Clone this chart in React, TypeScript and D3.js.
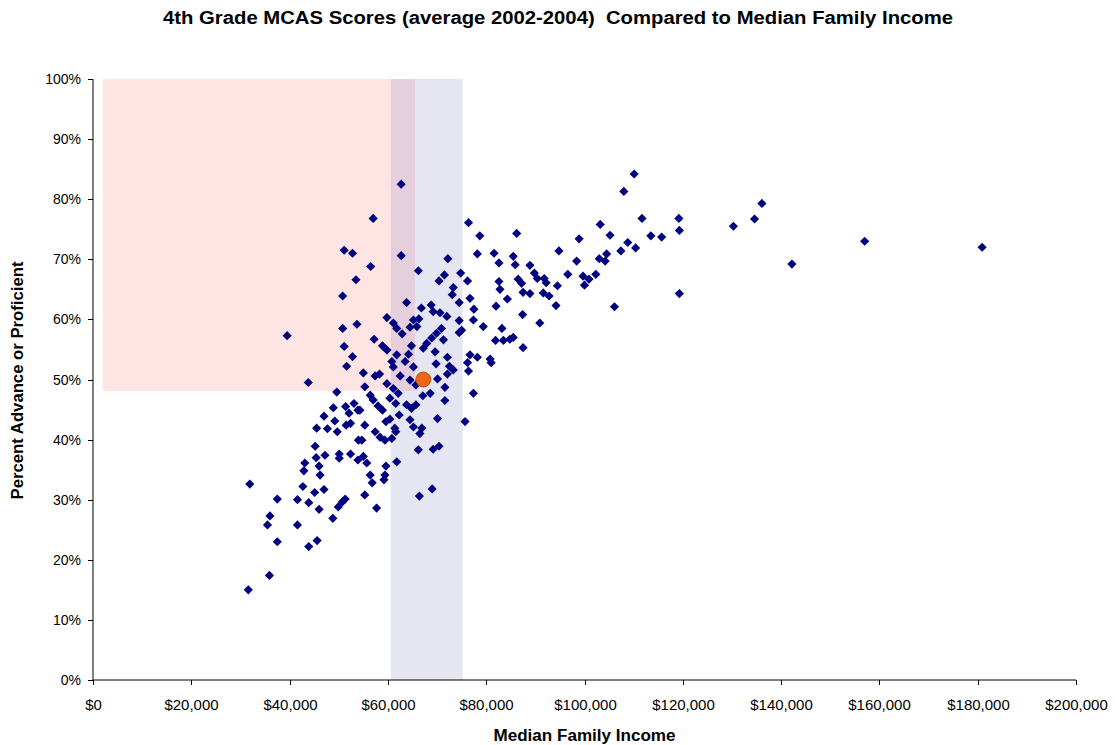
import * as d3 from 'd3';
import React from 'react';

// [median family income ($k), fraction advanced/proficient]
const districts: [number, number][] = [
  [110.1, 84.2], [108.0, 81.3], [136.1, 79.3], [111.7, 76.8], [119.2, 76.8], [119.3, 74.8],
  [134.6, 76.7], [130.3, 75.5], [157.0, 73.0], [180.9, 72.0], [142.2, 69.2], [119.3, 64.3],
  [106.1, 62.1], [103.2, 75.8], [105.2, 74.0], [113.5, 73.9], [115.7, 73.7], [108.8, 72.8],
  [107.4, 71.4], [110.4, 71.9], [104.5, 70.9], [104.2, 69.7],
  [78.7, 73.9], [86.2, 74.3], [98.9, 73.4], [81.6, 71.0], [78.2, 70.9], [82.6, 69.4],
  [85.5, 70.5], [85.9, 69.1], [88.9, 69.0], [94.8, 71.4], [98.4, 69.7], [89.8, 67.7],
  [90.4, 66.8], [91.8, 66.8], [92.2, 66.1], [96.6, 67.5], [99.7, 67.2], [100.9, 66.7],
  [102.3, 67.5], [100.0, 65.7], [94.5, 65.6], [86.5, 66.7], [87.2, 66.0], [82.6, 66.3],
  [82.8, 65.0], [87.5, 64.5], [88.9, 64.3], [91.6, 64.4], [92.8, 63.9], [84.3, 63.4],
  [94.2, 62.3], [82.0, 62.2], [87.4, 60.8], [90.9, 59.4], [79.4, 58.8], [83.2, 58.5],
  [81.9, 56.5], [83.5, 56.5], [84.8, 56.7], [85.5, 57.0], [87.5, 55.3], [80.8, 53.4],
  [103.0, 70.1], [81.0, 52.8],
  [62.7, 82.5], [57.0, 76.8], [76.4, 76.1],
  [62.7, 70.6], [56.5, 68.8], [66.2, 68.1], [72.2, 70.1], [71.5, 67.4], [70.4, 66.4],
  [74.8, 67.7], [76.2, 66.4], [73.3, 65.3], [73.1, 64.1], [76.7, 63.5], [74.5, 62.8],
  [63.8, 62.8], [66.8, 61.9], [68.8, 62.4], [69.2, 61.3], [70.6, 61.1], [72.0, 60.5],
  [77.5, 61.7], [77.4, 59.9], [74.5, 59.8], [66.3, 60.1], [65.9, 58.8], [65.2, 59.9],
  [59.8, 60.3], [61.1, 59.4], [61.8, 58.5], [64.5, 58.7], [62.9, 57.6], [70.9, 58.5],
  [69.9, 57.7], [68.9, 56.9], [67.9, 56.0], [67.2, 55.2], [71.3, 56.6], [74.5, 57.8],
  [75.0, 58.2], [57.2, 56.7], [58.9, 55.6], [59.8, 54.9], [61.8, 54.1], [64.2, 54.2],
  [64.8, 55.6], [69.6, 54.6], [72.1, 53.7], [76.7, 54.1], [78.2, 53.7], [53.5, 66.6],
  [51.1, 71.5], [52.8, 71.0], [50.8, 63.9], [39.5, 57.3], [50.8, 58.5], [53.7, 59.2],
  [51.1, 55.5], [52.8, 53.8],
  [51.6, 52.2], [43.8, 49.5], [49.6, 47.9], [48.9, 45.3], [47.0, 43.9], [51.4, 45.5],
  [53.1, 46.0], [52.1, 44.4], [49.2, 43.1], [45.5, 41.9], [47.7, 41.8], [49.7, 41.3],
  [51.5, 42.4], [52.4, 42.7], [45.2, 38.9], [45.4, 37.0], [47.2, 37.4], [50.1, 37.6],
  [50.1, 36.9], [52.4, 37.6], [43.1, 36.1], [42.9, 34.8], [46.0, 35.6], [46.2, 34.1],
  [54.0, 39.9], [53.9, 36.6], [53.9, 44.9],
  [31.9, 32.6], [37.5, 30.1], [36.0, 27.3], [35.5, 25.8], [37.5, 23.0], [35.9, 17.4],
  [31.6, 15.0], [42.7, 32.2], [45.1, 31.2], [47.0, 31.7], [41.6, 30.0], [43.9, 29.5],
  [46.0, 28.4], [49.9, 28.8], [51.3, 30.1], [50.7, 29.6], [48.8, 26.9], [41.6, 25.8],
  [45.6, 23.2], [43.9, 22.2],
  [56.8, 32.8], [55.3, 30.8], [57.7, 28.6], [66.4, 30.6], [69.0, 31.8], [59.2, 33.3],
  [55.0, 51.1], [57.4, 50.6], [58.3, 50.9], [61.1, 52.1], [60.8, 53.0], [63.5, 53.0],
  [65.2, 52.1], [62.5, 50.6], [64.5, 49.9], [65.7, 49.1], [69.8, 52.6], [72.5, 52.2],
  [73.3, 51.6], [72.1, 50.9], [76.2, 52.8], [76.4, 51.4], [70.1, 50.1], [71.6, 48.7],
  [68.6, 47.7], [67.1, 47.3], [77.4, 47.7], [71.6, 46.5], [55.3, 48.8], [59.8, 49.3],
  [61.1, 48.5], [62.1, 47.7], [56.4, 47.4], [57.0, 46.6], [60.4, 46.9], [61.6, 46.0],
  [58.0, 45.6], [58.9, 44.9], [63.8, 45.8], [64.8, 45.2], [65.7, 45.8], [54.3, 44.9],
  [62.3, 44.1], [60.4, 43.4], [59.6, 43.0], [64.5, 43.3], [70.1, 43.5], [75.7, 43.0],
  [55.3, 42.4], [57.4, 41.3], [58.4, 40.4], [59.4, 39.9], [60.8, 40.2], [61.4, 41.9],
  [61.6, 41.3], [65.2, 42.1], [66.9, 41.9], [66.5, 41.0], [54.7, 39.9], [66.2, 38.3],
  [69.2, 38.4], [70.4, 38.9], [55.0, 37.2], [55.7, 36.1], [61.8, 36.3], [59.6, 35.6],
  [56.4, 34.1], [59.4, 34.1],
];

// state average marker
const stateAverage: [number, number] = [67.2, 50.0];

// shaded bands: [x0 $k, x1 $k, y0 %, y1 %]
const lowIncomeHighScore = [2.0, 65.5, 48.1, 100];
const incomeBand = [60.6, 75.2, 0, 100];

const xTicks = [0, 20000, 40000, 60000, 80000, 100000, 120000, 140000, 160000, 180000, 200000];
const yTicks = [0, 0.1, 0.2, 0.3, 0.4, 0.5, 0.6, 0.7, 0.8, 0.9, 1.0];

const params = {
  width: 1115,
  height: 745,
  left: 93,
  right: 1076,
  top: 79,
  bottom: 680,
};

const font = '"Liberation Sans", Arial, sans-serif';

export default function App() {
  const x = d3.scaleLinear().domain([0, 200000]).range([params.left, params.right]);
  const y = d3.scaleLinear().domain([0, 1]).range([params.bottom, params.top]);
  const diamond = d3.symbol(d3.symbolSquare, 42)() as string;
  const fmtMoney = d3.format('$,');
  const fmtPct = d3.format('.0%');

  const rect = (b: number[]) => ({
    x: x(b[0] * 1000),
    y: y(b[3] / 100),
    width: x(b[1] * 1000) - x(b[0] * 1000),
    height: y(b[2] / 100) - y(b[3] / 100),
  });
  const pink = rect(lowIncomeHighScore);
  const blue = rect(incomeBand);
  const overlap = rect([
    Math.max(lowIncomeHighScore[0], incomeBand[0]),
    Math.min(lowIncomeHighScore[1], incomeBand[1]),
    Math.max(lowIncomeHighScore[2], incomeBand[2]),
    Math.min(lowIncomeHighScore[3], incomeBand[3]),
  ]);

  return (
    <div style={{ position: 'absolute', left: 0, top: 0 }}>
      <svg width={params.width} height={params.height} style={{ fontFamily: font, display: 'block' }}>
        <rect width={params.width} height={params.height} fill="#fff" />
        <text x={558} y={24} textAnchor="middle" fontSize={18} fontWeight="bold"
          textLength={790} lengthAdjust="spacingAndGlyphs" style={{ whiteSpace: 'pre' }}>
          {'4th Grade MCAS Scores (average 2002-2004)  Compared to Median Family Income'}
        </text>

        <rect {...pink} fill="#FFE4E4" />
        <rect {...blue} fill="#E6E6F2" />
        <rect {...overlap} fill="#E6CFDD" />

        {/* axes */}
        <line x1={params.left} x2={params.left} y1={params.top} y2={params.bottom} stroke="#000" />
        <line x1={params.left} x2={params.right} y1={params.bottom} y2={params.bottom} stroke="#000" />
        {yTicks.map(t => (
          <g key={t} transform={`translate(0,${Math.round(y(t)) + 0.5})`}>
            <line x1={params.left - 5} x2={params.left} stroke="#000" />
            <text x={params.left - 12} dy="0.35em" textAnchor="end" fontSize={14}>{fmtPct(t)}</text>
          </g>
        ))}
        {xTicks.map(t => (
          <g key={t} transform={`translate(${Math.round(x(t)) + 0.5},0)`}>
            <line y1={params.bottom} y2={params.bottom + 5} stroke="#000" />
            <text y={params.bottom + 30} textAnchor="middle" fontSize={15}>{fmtMoney(t)}</text>
          </g>
        ))}
        <text x={(params.left + params.right) / 2} y={741} textAnchor="middle" fontSize={16} fontWeight="bold"
          textLength={182} lengthAdjust="spacingAndGlyphs">
          Median Family Income
        </text>
        <text transform={`translate(23,${(params.top + params.bottom) / 2 + 1}) rotate(-90)`} textAnchor="middle"
          fontSize={16} fontWeight="bold" textLength={238} lengthAdjust="spacingAndGlyphs">
          Percent Advance or Proficient
        </text>

        {/* districts */}
        {districts.map((d, i) => (
          <path key={i} d={diamond} fill="#000080"
            transform={`translate(${x(d[0] * 1000)},${y(d[1] / 100)}) rotate(45)`} />
        ))}
        <circle cx={x(stateAverage[0] * 1000)} cy={y(stateAverage[1] / 100)} r={7.5}
          fill="#EE6515" stroke="#B04010" strokeWidth={0.8} />
      </svg>
    </div>
  );
}
